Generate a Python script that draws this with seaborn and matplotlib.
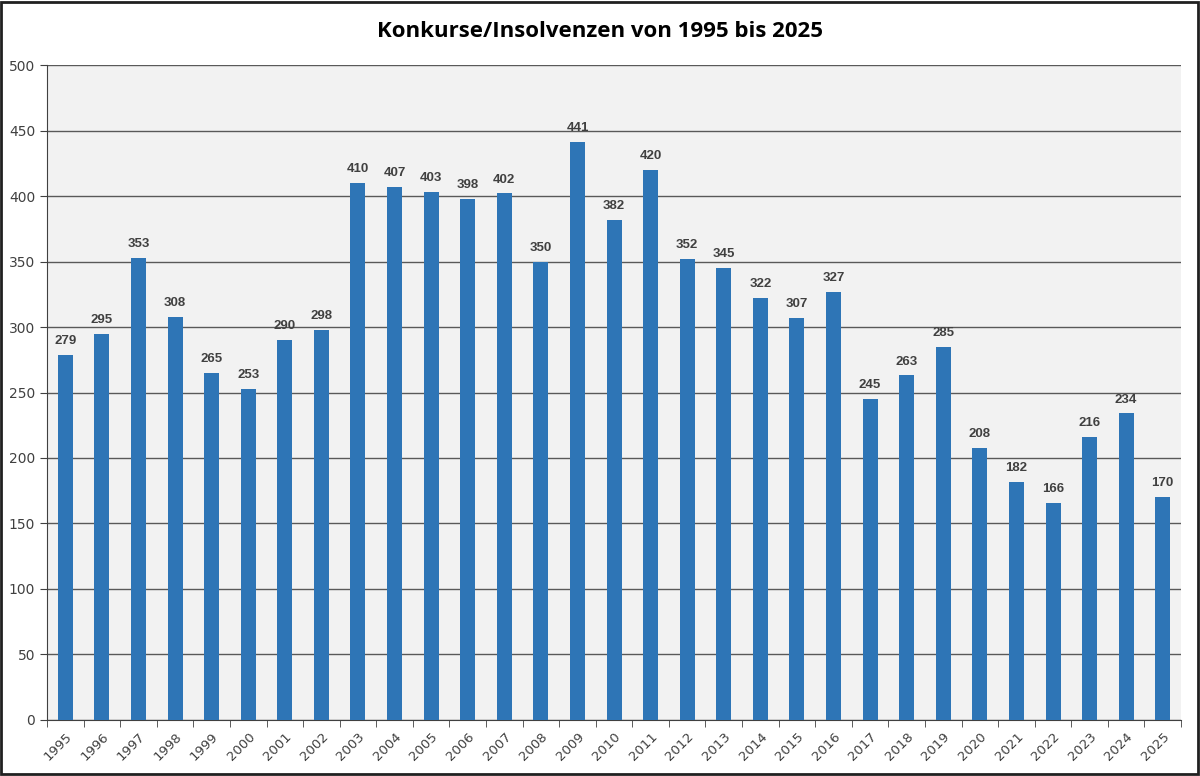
import matplotlib
matplotlib.use("Agg")
import matplotlib.pyplot as plt
from matplotlib.patches import Rectangle
import numpy as np
import pandas as pd
import seaborn as sns

# Daten
jahre = [str(j) for j in range(1995, 2026)]
insolvenzen = [279, 295, 353, 308, 265, 253, 290, 298, 410, 407, 403, 398, 402, 350,
               441, 382, 420, 352, 345, 322, 307, 327, 245, 263, 285, 208, 182, 166,
               216, 234, 170]
titel = "Konkurse/Insolvenzen von 1995 bis 2025"

df = pd.DataFrame({"Jahr": jahre, "Anzahl": insolvenzen})

sns.set_style("white")
plt.rcParams['font.family'] = ['DejaVu Sans']

fig = plt.figure(figsize=(12, 7.76), dpi=100)
ax = fig.add_axes([0.0392, 0.0722, 0.9450, 0.8440])
ax.set_facecolor("#f2f2f2")

sns.barplot(data=df, x="Jahr", y="Anzahl", color="#2e75b6", saturation=1,
            width=0.41, ax=ax, zorder=3, edgecolor="none", linewidth=0)

# Gitterlinien
ax.set_ylim(0, 500)
ax.set_yticks(np.arange(0, 501, 50))
ax.yaxis.grid(True, color="#595959", linewidth=1, zorder=0)
ax.set_axisbelow(True)
ax.set_xlim(-0.5, len(jahre) - 0.5)

# Werte über den Balken
for i, v in enumerate(insolvenzen):
    ax.text(i, v + 6, str(v), ha="center", va="bottom", fontsize=9.5,
            fontweight="bold", color="#404040", family="Liberation Sans",
            fontstretch="normal", zorder=4)

# Achsen
for s in ["top", "right"]:
    ax.spines[s].set_visible(False)
ax.spines["left"].set_color("#404040")
ax.spines["bottom"].set_color("#404040")
ax.set_xlabel("")
ax.set_ylabel("")

ax.set_xticks(np.arange(len(jahre)))
ax.set_xticklabels(jahre, rotation=45, ha="right", rotation_mode="anchor",
                   fontsize=9.5, color="#404040")
ax.tick_params(axis="x", length=0, pad=7)
ax.set_xticks(np.arange(-0.5, len(jahre)), minor=True)
ax.tick_params(axis="x", which="minor", length=5, color="#404040", bottom=True)
ax.tick_params(axis="y", length=5, color="#404040", labelsize=10,
               labelcolor="#404040", left=True)

fig.text(0.5, 0.960, titel, ha="center", va="center", fontsize=16,
         fontweight="bold", family="Open Sans", color="black")

# Rahmen um die Grafik
fig.patches.append(Rectangle((0.001, 0.002), 0.997, 0.996, transform=fig.transFigure,
                             fill=False, edgecolor="#202020", linewidth=2))

fig.savefig("out.png", dpi=100)
